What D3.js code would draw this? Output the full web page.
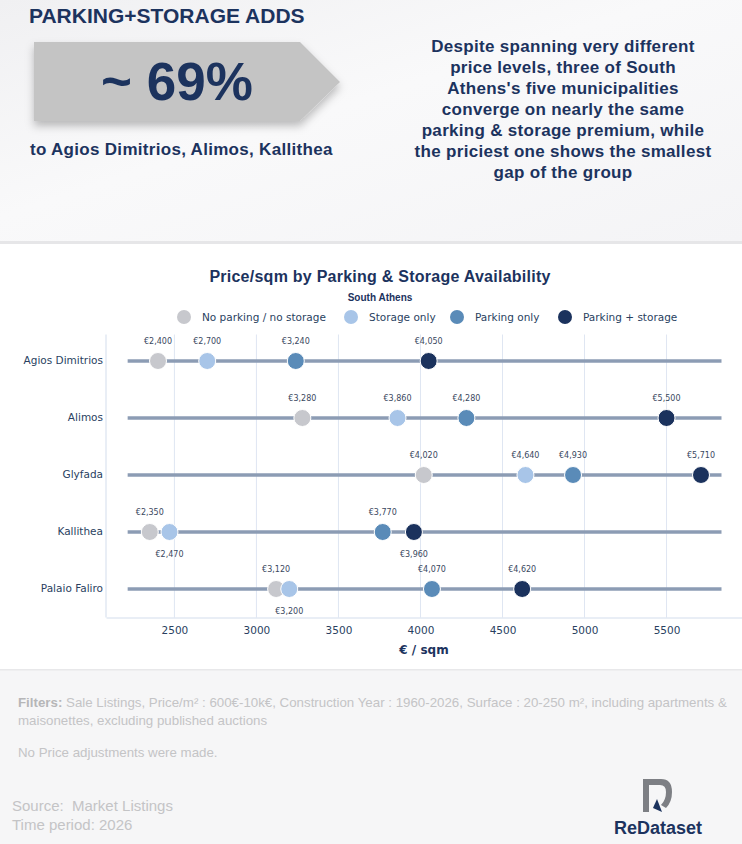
<!DOCTYPE html>
<html lang="en">
<head>
  <meta charset="UTF-8">
  <title>Price/sqm by Parking & Storage Availability - South Athens</title>
  <script src="https://d3js.org/d3.v7.min.js"></script>
  <style>
    body { margin: 0; background: #fff; }
    svg { display: block; }
    .hdr { font-family: "Liberation Sans", Arial, sans-serif; font-weight: bold; fill: #1c335e; }
    .plot { font-family: "DejaVu Sans", Verdana, sans-serif; }
    .foot { font-family: "Liberation Sans", Arial, sans-serif; fill: #c4c4c6; white-space: pre; }
  </style>
</head>
<body>
  <div id="chart"></div>
  <script>
    // data
    const municipalities = ["Agios Dimitrios", "Alimos", "Glyfada", "Kallithea", "Palaio Faliro"];
    const noParking = [2400, 3280, 4020, 2350, 3120];
    const storageOnly = [2700, 3860, 4640, 2470, 3200];
    const parkingOnly = [3240, 4280, 4930, 3770, 4070];
    const parkingStorage = [4050, 5500, 5710, 3960, 4620];
    const seriesNames = ["No parking / no storage", "Storage only", "Parking only", "Parking + storage"];
    const xTicks = [2500, 3000, 3500, 4000, 4500, 5000, 5500];
    const lineExtent = [2215, 5835];

    const paragraph = [
      "Despite spanning very different",
      "price levels, three of South",
      "Athens's five municipalities",
      "converge on nearly the same",
      "parking & storage premium, while",
      "the priciest one shows the smallest",
      "gap of the group"
    ];

    const W = 742, H = 844;
    const svg = d3.select("#chart").append("svg")
      .attr("width", W).attr("height", H);

    const defs = svg.append("defs");
    const grad = defs.append("linearGradient").attr("id", "topbg")
      .attr("x1", "0").attr("y1", "0").attr("x2", "1").attr("y2", "1");
    grad.append("stop").attr("offset", "0%").attr("stop-color", "#f0f0f2");
    grad.append("stop").attr("offset", "45%").attr("stop-color", "#f9f9fa");
    grad.append("stop").attr("offset", "100%").attr("stop-color", "#f4f4f6");
    const shadow = defs.append("filter").attr("id", "shadow")
      .attr("x", "-10%").attr("y", "-10%").attr("width", "130%").attr("height", "140%");
    shadow.append("feDropShadow").attr("dx", 0).attr("dy", 5).attr("stdDeviation", 4)
      .attr("flood-color", "#000").attr("flood-opacity", 0.25);

    // ---- header panel ----
    svg.append("rect").attr("x", 0).attr("y", 0).attr("width", W).attr("height", 241)
      .attr("fill", "url(#topbg)");
    svg.append("rect").attr("x", 0).attr("y", 241).attr("width", W).attr("height", 3)
      .attr("fill", "#e6e6e8");

    svg.append("text").attr("class", "hdr").attr("x", 29).attr("y", 23)
      .style("font-size", "21px").text("PARKING+STORAGE ADDS");

    svg.append("path")
      .attr("d", "M34,42 L300,42 L340,82 L300,121 L34,121 Z")
      .attr("fill", "#c4c4c4").attr("filter", "url(#shadow)");

    svg.append("text").attr("class", "hdr").attr("x", 177).attr("y", 100)
      .attr("text-anchor", "middle").style("font-size", "53px").text("~ 69%");

    svg.append("text").attr("class", "hdr").attr("x", 30).attr("y", 155)
      .style("font-size", "17px").style("letter-spacing", "0.3px")
      .text("to Agios Dimitrios, Alimos, Kallithea");

    svg.append("g").selectAll("text").data(paragraph).join("text")
      .attr("class", "hdr")
      .attr("x", 563).attr("y", (d, i) => 52 + i * 21)
      .attr("text-anchor", "middle").style("font-size", "17px").style("letter-spacing", "0.3px")
      .text(d => d);

    // ---- chart ----
    const margin = { top: 332.5, left: 106, right: 742, bottom: 617.5 };

    const x = d3.scaleLinear().domain([2083, 5960]).range([margin.left, margin.right]);
    const y = d3.scaleBand().domain(municipalities).range([margin.top, margin.bottom]);
    const cy = d => y(d) + y.bandwidth() / 2;

    const color = d3.scaleOrdinal().domain(seriesNames)
      .range(["#c7c8cd", "#a8c5e8", "#5a8bb8", "#1b325d"]);

    const plot = svg.append("g").attr("class", "plot");

    plot.append("text").attr("x", 380).attr("y", 282).attr("text-anchor", "middle")
      .style("font-family", "'Liberation Sans', Arial, sans-serif").style("font-weight", "900")
      .style("font-size", "16px").style("letter-spacing", "0.25px").attr("fill", "#1c335e")
      .text("Price/sqm by Parking & Storage Availability");
    plot.append("text").attr("x", 380).attr("y", 301).attr("text-anchor", "middle")
      .style("font-family", "'Liberation Sans', Arial, sans-serif").style("font-weight", "bold")
      .style("font-size", "10px").attr("fill", "#1c335e").text("South Athens");

    // legend
    const legendX = [184, 351, 457, 565];
    const legend = plot.append("g").selectAll("g").data(seriesNames).join("g")
      .attr("transform", (d, i) => `translate(${legendX[i]},317)`);
    legend.append("circle").attr("r", 7).attr("fill", d => color(d));
    legend.append("text").attr("x", 18).attr("dy", "0.35em")
      .style("font-size", "10.5px").attr("fill", "#2a3f5f").text(d => d);

    // grid + axes
    plot.append("g").selectAll("line").data(xTicks).join("line")
      .attr("x1", d => x(d)).attr("x2", d => x(d))
      .attr("y1", margin.top + 2).attr("y2", margin.bottom)
      .attr("stroke", "#dfe6f2").attr("stroke-width", 1);

    plot.append("line").attr("x1", margin.left).attr("x2", margin.left)
      .attr("y1", margin.top + 2).attr("y2", margin.bottom)
      .attr("stroke", "#d3ddec");

    const xAxis = plot.append("g").attr("transform", `translate(0,${margin.bottom})`)
      .call(d3.axisBottom(x).tickValues(xTicks).tickSize(0).tickPadding(9).tickFormat(d3.format("d")));
    xAxis.select(".domain").attr("stroke", "#d3ddec");
    xAxis.selectAll("text").style("font-size", "10.5px").style("font-family", "'DejaVu Sans', Verdana, sans-serif")
      .attr("fill", "#2a3f5f");

    const yAxis = plot.append("g").attr("transform", `translate(${margin.left},0)`)
      .call(d3.axisLeft(y).tickSize(0).tickPadding(3));
    yAxis.select(".domain").remove();
    yAxis.selectAll("text").style("font-size", "10.5px").style("font-family", "'DejaVu Sans', Verdana, sans-serif")
      .attr("fill", "#2a3f5f");

    plot.append("text").attr("x", (margin.left + margin.right) / 2).attr("y", 654)
      .attr("text-anchor", "middle").style("font-size", "12px").style("font-weight", "bold")
      .attr("fill", "#1c335e").text("€ / sqm");

    // dumbbell lines
    plot.append("g").selectAll("line").data(municipalities).join("line")
      .attr("x1", x(lineExtent[0])).attr("x2", x(lineExtent[1]))
      .attr("y1", d => cy(d)).attr("y2", d => cy(d))
      .attr("stroke", "#8c9cb4").attr("stroke-width", 3.5);

    // points
    const series = [noParking, storageOnly, parkingOnly, parkingStorage];
    const points = [];
    municipalities.forEach((m, i) => {
      series.forEach((s, k) => {
        const prev = k > 0 ? series[k - 1][i] : null;
        points.push({ m, name: seriesNames[k], v: s[i], below: prev !== null && s[i] - prev < 200 });
      });
    });

    const fmt = v => "€" + d3.format(",")(v);

    plot.append("g").selectAll("circle").data(points).join("circle")
      .attr("cx", d => x(d.v)).attr("cy", d => cy(d.m)).attr("r", 8.5)
      .attr("fill", d => color(d.name)).attr("stroke", "#fff").attr("stroke-width", 1);

    plot.append("g").selectAll("text").data(points).join("text")
      .attr("x", d => x(d.v))
      .attr("y", d => cy(d.m) + (d.below ? 25 : -17))
      .attr("text-anchor", "middle").style("font-size", "8px").attr("fill", "#3a4860")
      .text(d => fmt(d.v));

    // ---- footer ----
    svg.append("rect").attr("x", 0).attr("y", 670).attr("width", W).attr("height", H - 670)
      .attr("fill", "#f6f6f7");
    svg.append("rect").attr("x", 0).attr("y", 669).attr("width", W).attr("height", 1.5)
      .attr("fill", "#e8e8ea");

    const f1 = svg.append("text").attr("class", "foot").attr("x", 18).attr("y", 707)
      .style("font-size", "13.3px");
    f1.append("tspan").style("font-weight", "bold").attr("fill", "#b6b6b8").text("Filters: ");
    f1.append("tspan").text("Sale Listings, Price/m² : 600€-10k€, Construction Year : 1960-2026, Surface : 20-250 m², including apartments &");
    svg.append("text").attr("class", "foot").attr("x", 18).attr("y", 725)
      .style("font-size", "13.3px").text("maisonettes, excluding published auctions");
    svg.append("text").attr("class", "foot").attr("x", 18).attr("y", 757)
      .style("font-size", "13.3px").text("No Price adjustments were made.");
    svg.append("text").attr("class", "foot").attr("x", 12).attr("y", 811)
      .style("font-size", "15px").text("Source:  Market Listings");
    svg.append("text").attr("class", "foot").attr("x", 12).attr("y", 830)
      .style("font-size", "15px").text("Time period: 2026");

    // logo
    const logo = svg.append("g").attr("transform", "translate(658,796)");
    logo.append("path")
      .attr("d", "M-15,-17 L3,-17 Q14,-17 14,-4 Q14,6 8,12 L3,9 Q8,4 8,-4 Q8,-11 2,-11 L-9,-11 L-9,16 L-15,16 Z")
      .attr("fill", "#7d7f84");
    logo.append("path").attr("d", "M-1,3 L4,16 L-5,12 Z").attr("fill", "#1c335e");
    svg.append("text").attr("x", 658).attr("y", 834).attr("text-anchor", "middle")
      .style("font-family", "'Liberation Sans', Arial, sans-serif").style("font-weight", "bold")
      .style("font-size", "18px").attr("fill", "#1c335e").text("ReDataset");
  </script>
</body>
</html>
